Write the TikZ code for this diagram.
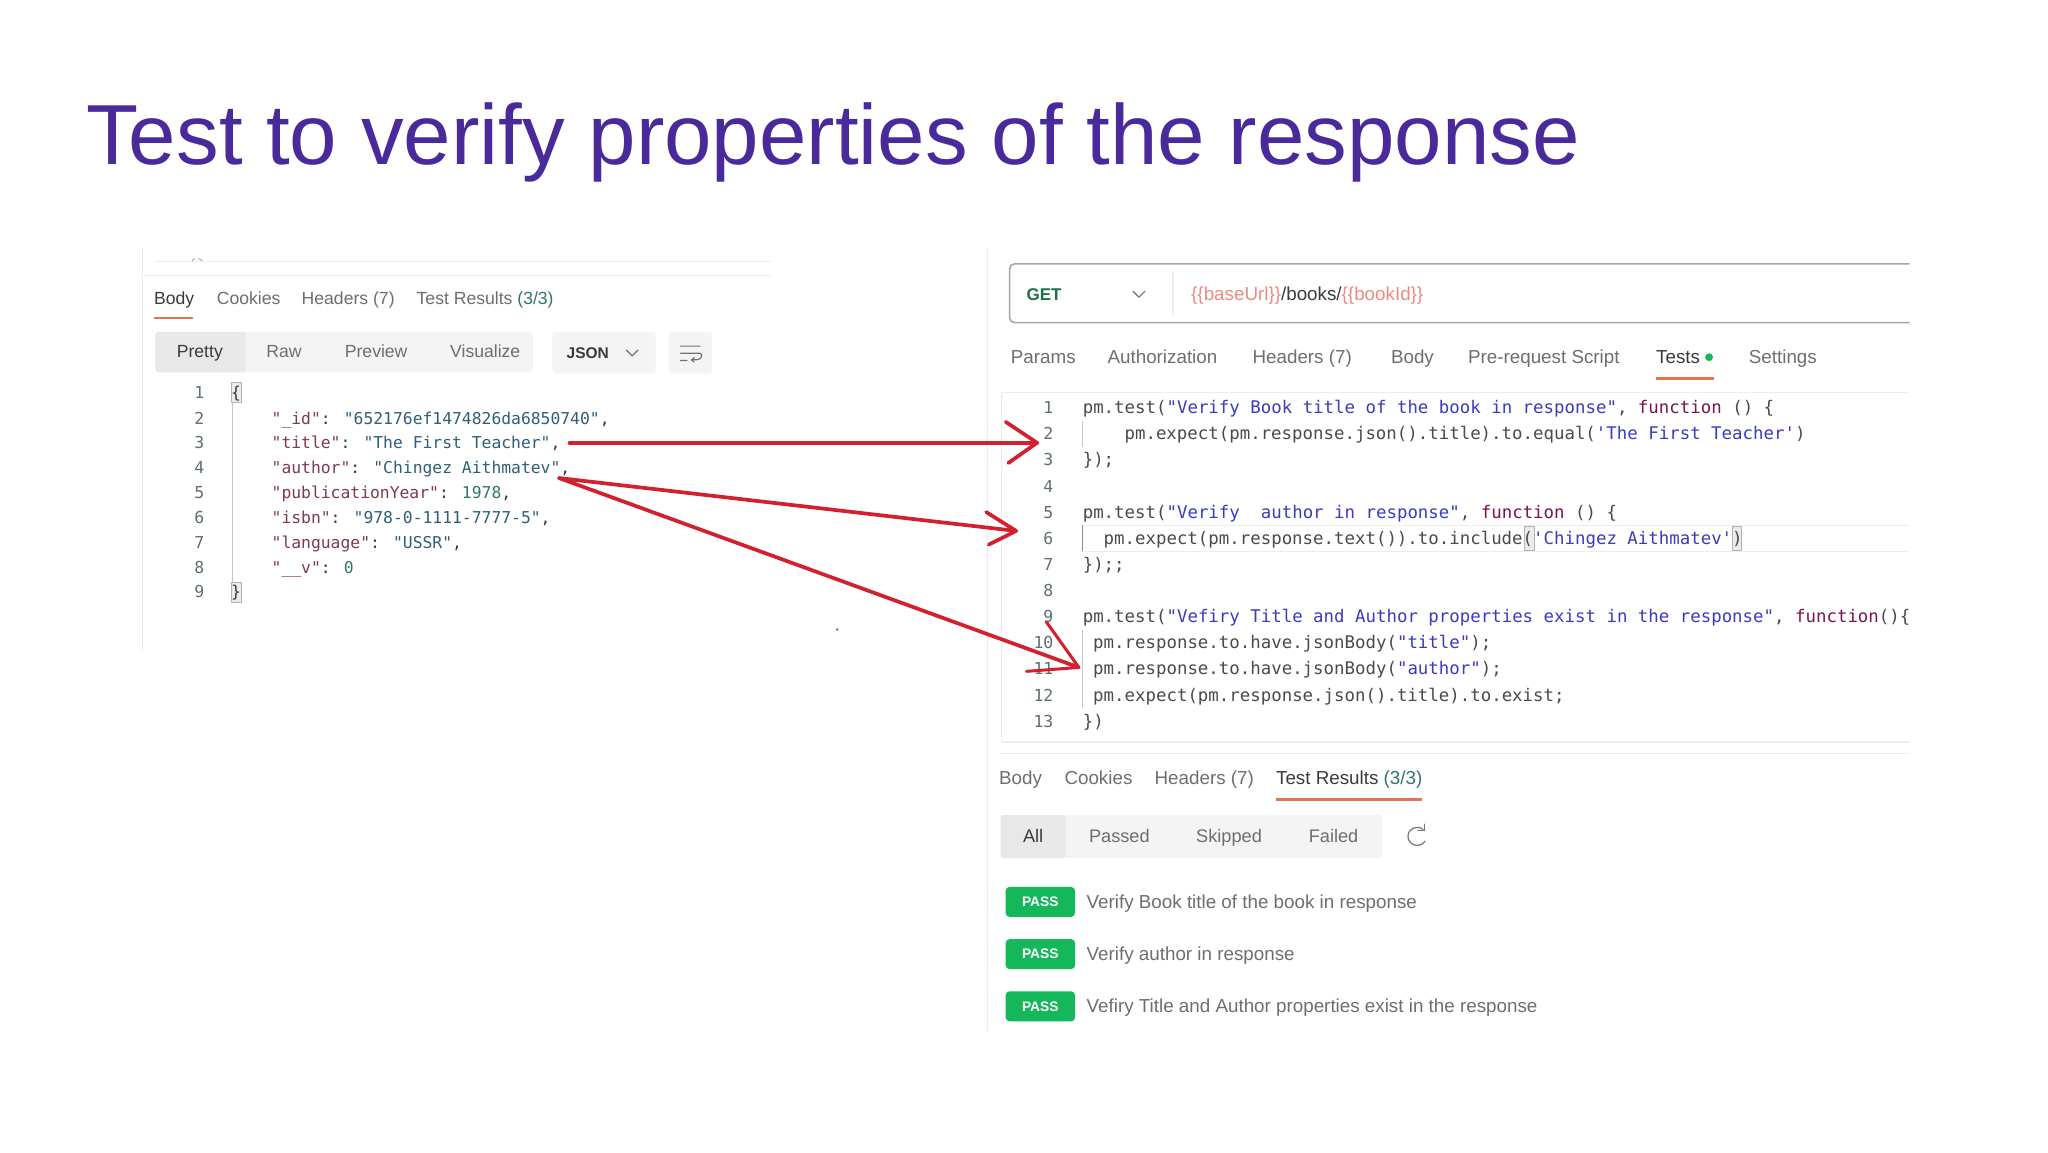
\documentclass[tikz,border=0pt]{standalone}
\usepackage{fontspec}
\setmainfont{Liberation Sans}
\newfontfamily\codefont{DejaVu Sans Mono}
\definecolor{titlec}{HTML}{4A2A9A}
\definecolor{uitext}{HTML}{6E6E6E}
\definecolor{uidark}{HTML}{3A3A3A}
\definecolor{accent}{HTML}{E0764E}
\definecolor{hairline}{HTML}{EDEDED}
\definecolor{segdark}{HTML}{E8E8E8}
\definecolor{seglight}{HTML}{F4F4F4}
\definecolor{lnum}{HTML}{5F6F72}
\definecolor{jkey}{HTML}{7D3B4C}
\definecolor{jval}{HTML}{2F5F78}
\definecolor{jnum}{HTML}{2F7767}
\definecolor{cplain}{HTML}{4A4A4A}
\definecolor{cstr}{HTML}{3B3BC0}
\definecolor{ckw}{HTML}{7A1450}
\definecolor{varc}{HTML}{EE8A80}
\definecolor{getc}{HTML}{1F6E4A}
\definecolor{passc}{HTML}{14B85A}
\definecolor{arrowc}{HTML}{D3202F}
\newcommand\kk[1]{\textcolor{jkey}{#1}}
\newcommand\vv[1]{\textcolor{jval}{#1}}
\newcommand\nn[1]{\textcolor{jnum}{#1}}
\newcommand\st[1]{\textcolor{cstr}{#1}}
\newcommand\fk[1]{\textcolor{ckw}{#1}}
\tikzset{
  every node/.style={inner sep=0pt,outer sep=0pt},
  ui/.style={anchor=west,font=\fontsize{17.6}{20}\selectfont,text=uitext,text height=14.4pt,text depth=2pt},
  uiact/.style={ui,text=uidark},
  uic/.style={ui,anchor=center},
  uir/.style={ui,font=\fontsize{18.8}{20}\selectfont},
  uiract/.style={uir,text=uidark},
  uif/.style={uic,font=\fontsize{18.2}{20}\selectfont},
  jcode/.style={anchor=west,font=\codefont\fontsize{16.35}{20}\selectfont,text=uidark,text height=14.4pt,text depth=2pt},
  pcode/.style={anchor=west,font=\codefont\fontsize{17.4}{20}\selectfont,text=cplain,text height=14.4pt,text depth=2pt},
  lnumber/.style={anchor=east,font=\codefont\fontsize{16.5}{20}\selectfont,text=lnum,text height=14.4pt,text depth=2pt},
  hair/.style={draw=hairline,line width=1.2pt},
  tabline/.style={draw=accent,line width=2.6pt},
  seg/.style={fill=seglight,rounded corners=3pt},
  passbadge/.style={fill=passc,rounded corners=4pt,minimum width=69.5pt,minimum height=30pt,text=white,font=\bfseries\fontsize{13.8}{16}\selectfont},
  redline/.style={draw=arrowc,line width=3.7pt,line cap=round,line join=round},
  redthin/.style={draw=arrowc,line width=3pt,line cap=round,line join=round},
  brace/.style={draw=black!30,fill=black!8,line width=.7pt},
  icon/.style={draw=black!55,line width=1.2pt,line cap=round,line join=round}
}
\begin{document}
\begin{tikzpicture}[x=1.30612pt,y=-1.30612pt]
\useasboundingbox (0,0) rectangle (1568,882);
\fill[white] (0,0) rectangle (1568,882);
% title
\node[anchor=base west,text=titlec,font=\fontsize{85.3}{90}\selectfont] (title) at (66,126) {Test to verify properties of the response};

% ---------- left panel
\draw[hair] (109,190) -- (109,498);
\draw[hair] (118,200) -- (590,200);
\draw[hair] (109,211) -- (590,211);
\draw[black!45,line width=.8pt] (147,199.5) -- (149,198) (152,198) -- (155,199.5);
\node[uiact] (lbody) at (118,228) {Body};
\node[ui] (lcook) at (166,228) {Cookies};
\node[ui] (lhead) at (231,228) {Headers (7)};
\node[ui] (ltest) at (319,228) {Test Results \textcolor{jnum}{(3/3)}};
\draw[tabline] (118,243.5) -- (148,243.5);
\fill[seg] (119,254) rectangle (408,285);
\fill[segdark,rounded corners=3pt] (119,254) rectangle (188,285);
\fill[seg] (423,254) rectangle (502,286);
\fill[seg] (512,254) rectangle (545,286);
\node[uic,text=uidark] (lpretty) at (153,269) {Pretty};
\node[uic] (lraw) at (217.5,269) {Raw};
\node[uic] (lprev) at (288,269) {Preview};
\node[uic] (lvis) at (371.5,269) {Visualize};
\node[uic,text=uidark,font=\bfseries\fontsize{15.5}{20}\selectfont] (ljson) at (450,270) {JSON};
\draw[icon] (479.5,268) -- (484,272.5) -- (488.5,268);
\draw[icon] (521,265) -- (536,265) (521,270.5) -- (536,270.5) .. controls (538,270.5) and (538,275.5) .. (533,275.5) -- (530,275.5) (521,276) -- (526,276);
\draw[icon] (531.5,273.8) -- (529.5,275.5) -- (531.5,277.2);
\foreach \n/\y in {1/300.5,2/320,3/339,4/358,5/377,6/396,7/415,8/434,9/453}
  \node[lnumber] (jl\n) at (156.5,\y) {\n};
\draw[draw=black!22,line width=.8pt] (178,300) -- (178,453);
\draw[brace] (177.5,293) rectangle (184.5,308);
\draw[brace] (177.5,446) rectangle (184.5,461);
\node[jcode] (j1) at (177,300.5) {\{};
\node[jcode] (j9) at (177,453) {\}};
\node[jcode] (j2) at (208,320) {\kk{"\_id"}: \vv{"652176ef1474826da6850740"},};
\node[jcode] (j3) at (208,339) {\kk{"title"}: \vv{"The First Teacher"},};
\node[jcode] (j4) at (208,358) {\kk{"author"}: \vv{"Chingez Aithmatev"},};
\node[jcode] (j5) at (208,377) {\kk{"publicationYear"}: \nn{1978},};
\node[jcode] (j6) at (208,396) {\kk{"isbn"}: \vv{"978-0-1111-7777-5"},};
\node[jcode] (j7) at (208,415) {\kk{"language"}: \vv{"USSR"},};
\node[jcode] (j8) at (208,434) {\kk{"\_\_v"}: \nn{0}};

% ---------- right panel
\draw[hair] (756,190) -- (756,790);
\draw[draw=black!35,line width=1.6pt,rounded corners=5pt] (1462,202) -- (773,202) -- (773,247) -- (1462,247);
\draw[hair] (898,208) -- (898,241);
\node[ui,text=getc,font=\bfseries\fontsize{17}{20}\selectfont] (get) at (786,225) {GET};
\draw[icon] (867.5,223) -- (872,227.5) -- (876.5,223);
\node[uir] (url) at (912,225) {\textcolor{varc}{\{\{baseUrl\}\}}\textcolor{uidark}{/books/}\textcolor{varc}{\{\{bookId\}\}}};
\node[uir] (rparams) at (774,273.5) {Params};
\node[uir] (rauth) at (848,273.5) {Authorization};
\node[uir] (rhead) at (959,273.5) {Headers (7)};
\node[uir] (rbody) at (1065,273.5) {Body};
\node[uir] (rpre) at (1124,273.5) {Pre-request Script};
\node[uiract] (rtests) at (1268,273.5) {Tests};
\fill[passc] (1308.5,273.5) circle[radius=3];
\node[uir] (rset) at (1339,273.5) {Settings};
\draw[tabline] (1268,290) -- (1312,290);
\draw[hair] (767,300.5) -- (1462,300.5);
\draw[hair] (767,300.5) -- (767,568);
\draw[hair,line width=1.6pt] (767,568) -- (1462,568);
\draw[hair] (765,577) -- (1462,577);
\draw[draw=hairline,line width=1pt] (830,402) -- (1462,402) (830,422) -- (1462,422);
\draw[draw=black!22,line width=.8pt] (829,322) -- (829,342);
\draw[draw=black!45,line width=.9pt] (829,402) -- (829,422);
\draw[draw=black!22,line width=.8pt] (829,482) -- (829,542);
\draw[brace] (1167,403) rectangle (1174.5,421);
\draw[brace] (1326,403) rectangle (1333.5,421);
\foreach \n/\y in {1/312,2/332,3/352,4/372,5/392,6/412,7/432,8/452,9/472,10/492,11/512,12/532,13/552}
  \node[lnumber] (pl\n) at (806.5,\y) {\n};
\node[pcode] (p1) at (829,312) {pm.test(\st{"Verify Book title of the book in response"}, \fk{function} () \{};
\node[pcode] (p2) at (861,332) {pm.expect(pm.response.json().title).to.equal(\st{'The First Teacher'})};
\node[pcode] (p3) at (829,352) {\});};
\node[pcode] (p5) at (829,392) {pm.test(\st{"Verify\ \ author in response"}, \fk{function} () \{};
\node[pcode] (p6) at (845,412) {pm.expect(pm.response.text()).to.include(\st{'Chingez Aithmatev'})};
\node[pcode] (p7) at (829,432) {\});;};
\node[pcode] (p9) at (829,472) {pm.test(\st{"Vefiry Title and Author properties exist in the response"}, \fk{function}()\{};
\node[pcode] (p10) at (837,492) {pm.response.to.have.jsonBody(\st{"title"});};
\node[pcode] (p11) at (837,512) {pm.response.to.have.jsonBody(\st{"author"});};
\node[pcode] (p12) at (837,532) {pm.expect(pm.response.json().title).to.exist;};
\node[pcode] (p13) at (829,552) {\})};
% bottom tabs
\node[uir] (bbody) at (765,596) {Body};
\node[uir] (bcook) at (815,596) {Cookies};
\node[uir] (bhead) at (884,596) {Headers (7)};
\node[uiract] (btest) at (977,596) {Test Results \textcolor{jnum}{(3/3)}};
\draw[tabline] (977,612) -- (1089,612);
\fill[seg] (766,624) rectangle (1058,657);
\fill[segdark,rounded corners=3pt] (766,624) rectangle (816,657);
\node[uif,text=uidark] (fall) at (791,640.5) {All};
\node[uif] (fpass) at (857,640.5) {Passed};
\node[uif] (fskip) at (941,640.5) {Skipped};
\node[uif] (ffail) at (1021,640.5) {Failed};
\draw[icon] (1089.5,635) .. controls (1085,631.5) and (1078,634) .. (1078,640.5) .. controls (1078,647) and (1087,650) .. (1091,644);
\draw[icon] (1090.5,631) -- (1090.5,636) -- (1085.5,636);
\node[passbadge] (b1) at (796.5,690.5) {PASS};
\node[passbadge] (b2) at (796.5,730.5) {PASS};
\node[passbadge] (b3) at (796.5,770.5) {PASS};
\node[uir] (t1) at (832,690.5) {Verify Book title of the book in response};
\node[uir] (t2) at (832,730.5) {Verify author in response};
\node[uir] (t3) at (832,770.5) {Vefiry Title and Author properties exist in the response};
\fill[black!70] (641,482) circle[radius=.9];

% ---------- red arrows
\coordinate (a1s) at (436,339);
\coordinate (a1t) at (794,339);
\coordinate (a1u) at (770,323);
\coordinate (a1l) at (772,354.5);
\coordinate (as) at (428,366);
\coordinate (a2t) at (778,406.5);
\coordinate (a2u) at (755,392);
\coordinate (a2l) at (757,417);
\coordinate (a3t) at (826,511);
\coordinate (a3u) at (801,476);
\coordinate (a3l) at (786,514);
\draw[redline] (a1s) -- (a1t);
\draw[redline] (a1u) -- (a1t) -- (a1l);
\draw[redline] (as) -- (a2t);
\draw[redline] (a2u) -- (a2t) -- (a2l);
\draw[redline] (as) -- (a3t);
\draw[redthin] (a3u) -- (a3t) -- (a3l);
\end{tikzpicture}
\end{document}
